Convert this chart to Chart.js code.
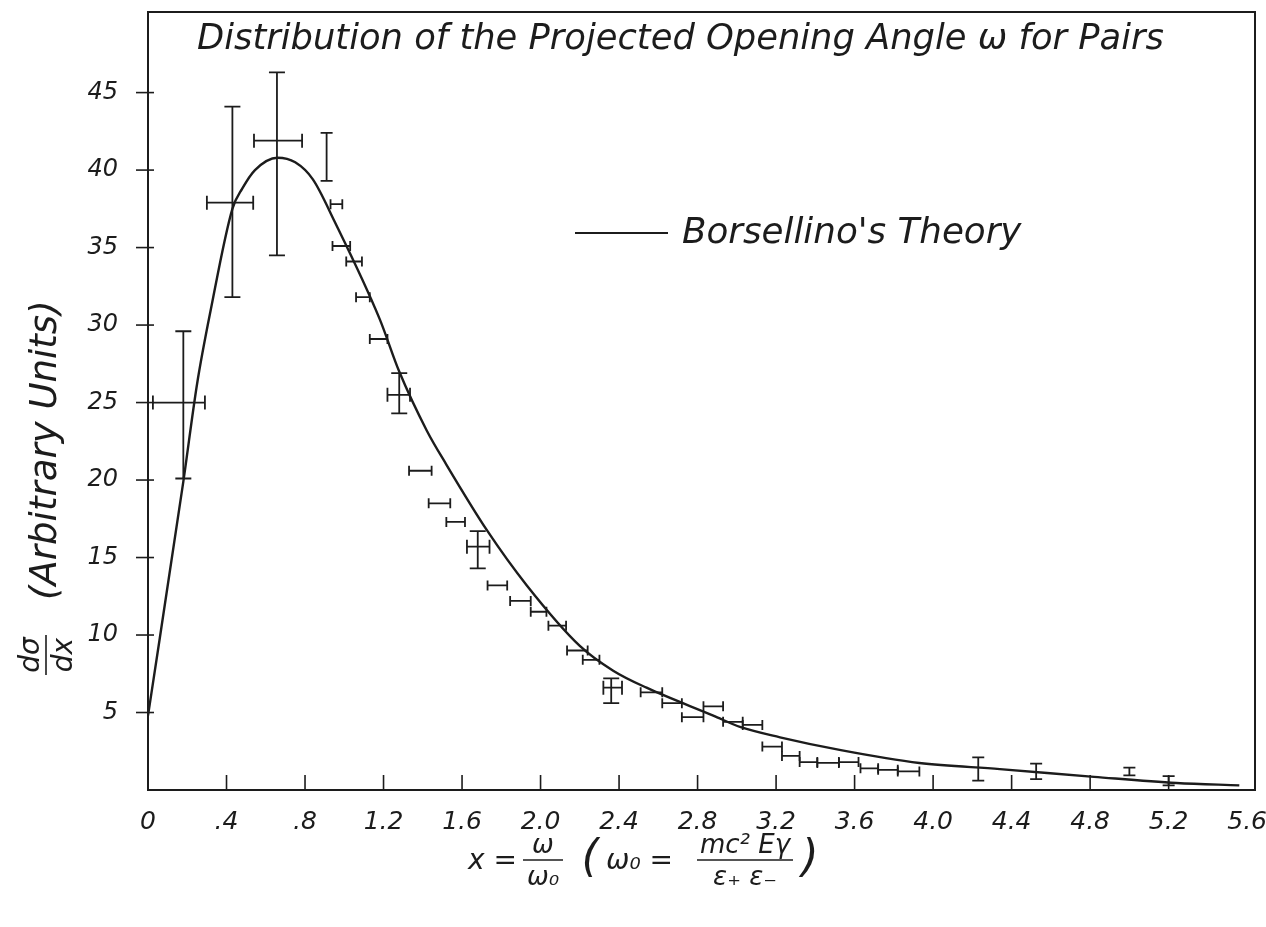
<!DOCTYPE html>
<html>
<head>
<meta charset="utf-8">
<script src="https://cdn.jsdelivr.net/npm/chart.js@4/dist/chart.umd.min.js"></script>
<style>
  html, body { margin: 0; padding: 0; background: #ffffff; }
  #wrap { width: 1266px; height: 927px; }
</style>
</head>
<body>
<div id="wrap"><canvas id="c" width="1266" height="927"></canvas></div>
<script>
// Borsellino's theoretical curve (x = w / w0, d sigma / dx)
const theoryX = [0, 0.18, 0.25, 0.32, 0.43, 0.48, 0.545, 0.66, 0.75, 0.84, 0.95, 1.18, 1.28, 1.42, 1.52, 1.73, 1.93, 2.2, 2.37, 2.54, 2.88, 3.02, 3.22, 3.53, 3.93, 4.34, 4.82, 5.24, 5.56];
const theoryY = [4.8, 19.9, 26.2, 31.0, 37.5, 38.8, 40.0, 40.8, 40.5, 39.4, 36.7, 30.4, 27.0, 23.2, 21.0, 16.7, 13.2, 9.3, 7.7, 6.6, 4.8, 4.05, 3.4, 2.57, 1.74, 1.35, 0.85, 0.45, 0.3];

// Measured pairs: centre values and error ranges (null = no bar in that direction)
const obsX = [0.18, 0.43, 0.657, 0.91, 0.96, 0.99, 1.05, 1.10, 1.17, 1.28, 1.39, 1.485, 1.565, 1.68, 1.78, 1.895, 1.99, 2.085, 2.19, 2.26, 2.36, 2.565, 2.67, 2.775, 2.88, 2.98, 3.08, 3.18, 3.275, 3.365, 3.465, 3.57, 3.675, 3.77, 3.875, 4.23, 4.525, 5.0, 5.2];
const obsY = [25.0, 37.9, 41.9, 40.6, 37.8, 35.1, 34.1, 31.8, 29.1, 25.5, 20.6, 18.5, 17.3, 15.7, 13.2, 12.2, 11.5, 10.6, 9.0, 8.4, 6.6, 6.3, 5.6, 4.7, 5.4, 4.4, 4.2, 2.8, 2.2, 1.8, 1.75, 1.8, 1.4, 1.3, 1.2, 1.4, 1.2, 1.2, 0.6];
const obsXLo = [0.025, 0.30, 0.54, null, 0.93, 0.94, 1.01, 1.06, 1.13, 1.22, 1.33, 1.43, 1.52, 1.625, 1.73, 1.845, 1.95, 2.04, 2.135, 2.215, 2.32, 2.51, 2.62, 2.72, 2.83, 2.93, 3.03, 3.13, 3.23, 3.32, 3.41, 3.52, 3.63, 3.72, 3.82, null, null, null, null];
const obsXHi = [0.29, 0.536, 0.785, null, 0.99, 1.03, 1.09, 1.13, 1.22, 1.335, 1.445, 1.54, 1.615, 1.74, 1.83, 1.95, 2.03, 2.13, 2.24, 2.30, 2.415, 2.62, 2.72, 2.83, 2.93, 3.03, 3.13, 3.23, 3.32, 3.41, 3.52, 3.62, 3.72, 3.82, 3.93, null, null, null, null];
const obsYLo = [20.1, 31.8, 34.5, 39.3, null, null, null, null, null, 24.3, null, null, null, 14.3, null, null, null, null, null, null, 5.6, null, null, null, null, null, null, null, null, null, null, null, null, null, null, 0.6, 0.7, 0.95, 0.3];
const obsYHi = [29.6, 44.1, 46.3, 42.4, null, null, null, null, null, 26.9, null, null, null, 16.7, null, null, null, null, null, null, 7.2, null, null, null, null, null, null, null, null, null, null, null, null, null, null, 2.1, 1.7, 1.45, 0.9];

// Axis ticks
const xTickValues = [0, 0.4, 0.8, 1.2, 1.6, 2.0, 2.4, 2.8, 3.2, 3.6, 4.0, 4.4, 4.8, 5.2, 5.6];
const xTickLabels = ['0', '.4', '.8', '1.2', '1.6', '2.0', '2.4', '2.8', '3.2', '3.6', '4.0', '4.4', '4.8', '5.2', '5.6'];
const yTickValues = [5, 10, 15, 20, 25, 30, 35, 40, 45];
const yTickLabels = ['5', '10', '15', '20', '25', '30', '35', '40', '45'];

const INK = '#1c1c1c';
const FONT = "'DejaVu Sans', 'Liberation Sans', sans-serif";

// Frame around the plot plus hand-style tick marks
const framePlugin = {
  id: 'frame',
  beforeDatasetsDraw(chart) {
    const { ctx, chartArea: a, scales } = chart;
    ctx.save();
    ctx.strokeStyle = INK;
    ctx.lineWidth = 2;
    ctx.strokeRect(a.left, a.top, a.right - a.left, a.bottom - a.top);
    ctx.lineWidth = 1.6;
    xTickValues.forEach(v => {
      if (v <= 0 || v >= 5.6) return;
      const px = scales.x.getPixelForValue(v);
      ctx.beginPath();
      ctx.moveTo(px, a.bottom);
      ctx.lineTo(px, a.bottom - 15);
      ctx.stroke();
    });
    yTickValues.forEach(v => {
      const py = scales.y.getPixelForValue(v);
      ctx.beginPath();
      ctx.moveTo(a.left - 12, py);
      ctx.lineTo(a.left + 6, py);
      ctx.stroke();
    });
    ctx.restore();
  }
};

// Error bars for the measured points
const errorBarPlugin = {
  id: 'errorBars',
  afterDatasetsDraw(chart) {
    const { ctx, scales } = chart;
    const sx = scales.x, sy = scales.y;
    ctx.save();
    ctx.strokeStyle = INK;
    ctx.lineWidth = 1.8;
    obsX.forEach((xv, i) => {
      const px = sx.getPixelForValue(xv);
      const py = sy.getPixelForValue(obsY[i]);
      const big = obsXLo[i] !== null && obsYLo[i] !== null;
      if (obsXLo[i] !== null) {
        const x0 = sx.getPixelForValue(obsXLo[i]);
        const x1 = sx.getPixelForValue(obsXHi[i]);
        const h = big ? 7 : 5;
        ctx.beginPath();
        ctx.moveTo(x0, py); ctx.lineTo(x1, py);
        ctx.moveTo(x0, py - h); ctx.lineTo(x0, py + h);
        ctx.moveTo(x1, py - h); ctx.lineTo(x1, py + h);
        ctx.stroke();
      }
      if (obsYLo[i] !== null) {
        const y0 = sy.getPixelForValue(obsYLo[i]);
        const y1 = sy.getPixelForValue(obsYHi[i]);
        const w = big ? 8 : 6;
        ctx.beginPath();
        ctx.moveTo(px, y0); ctx.lineTo(px, y1);
        ctx.moveTo(px - w, y0); ctx.lineTo(px + w, y0);
        ctx.moveTo(px - w, y1); ctx.lineTo(px + w, y1);
        ctx.stroke();
      }
    });
    ctx.restore();
  }
};

function fitFont(ctx, text, targetWidth, style) {
  ctx.font = style + ' 30px ' + FONT;
  const w = ctx.measureText(text).width;
  const size = 30 * targetWidth / w;
  ctx.font = style + ' ' + size.toFixed(1) + 'px ' + FONT;
  return size;
}

function fraction(ctx, cx, barY, num, den, barW, size) {
  ctx.font = 'italic ' + size + 'px ' + FONT;
  ctx.textAlign = 'center';
  ctx.textBaseline = 'alphabetic';
  ctx.fillText(num, cx, barY - 7);
  ctx.textBaseline = 'top';
  ctx.fillText(den, cx, barY + 5);
  ctx.beginPath();
  ctx.moveTo(cx - barW / 2, barY);
  ctx.lineTo(cx + barW / 2, barY);
  ctx.stroke();
}

// Title, legend and axis captions
const textPlugin = {
  id: 'captions',
  afterDraw(chart) {
    const { ctx } = chart;
    ctx.save();
    ctx.fillStyle = INK;
    ctx.strokeStyle = INK;
    ctx.lineWidth = 1.6;

    // title inside the frame
    const title = 'Distribution of the Projected Opening Angle \u03C9 for Pairs';
    fitFont(ctx, title, 968, 'italic');
    ctx.textAlign = 'left';
    ctx.textBaseline = 'middle';
    ctx.fillText(title, 197, 40);

    // legend entry
    ctx.lineWidth = 2;
    ctx.beginPath();
    ctx.moveTo(575, 233);
    ctx.lineTo(668, 233);
    ctx.stroke();
    const leg = "Borsellino's Theory";
    fitFont(ctx, leg, 340, 'italic');
    ctx.textAlign = 'left';
    ctx.textBaseline = 'middle';
    ctx.fillText(leg, 682, 234);

    // y axis caption (rotated)
    ctx.save();
    ctx.translate(46, 0);
    ctx.rotate(-Math.PI / 2);
    ctx.lineWidth = 1.6;
    fraction(ctx, -655, 0, 'd\u03C3', 'dx', 40, 28);
    const yCap = '(Arbitrary Units)';
    fitFont(ctx, yCap, 300, 'italic');
    ctx.textAlign = 'left';
    ctx.textBaseline = 'middle';
    ctx.fillText(yCap, -600, 0);
    ctx.restore();

    // x axis caption
    ctx.lineWidth = 1.6;
    ctx.font = 'italic 28px ' + FONT;
    ctx.textAlign = 'left';
    ctx.textBaseline = 'middle';
    ctx.fillText('x =', 468, 862);
    fraction(ctx, 543, 860, '\u03C9', '\u03C9\u2080', 40, 26);
    ctx.font = 'italic 44px ' + FONT;
    ctx.textAlign = 'center';
    ctx.textBaseline = 'middle';
    ctx.fillText('(', 590, 860);
    ctx.fillText(')', 810, 860);
    ctx.font = 'italic 28px ' + FONT;
    ctx.textAlign = 'left';
    ctx.fillText('\u03C9\u2080 =', 606, 862);
    fraction(ctx, 745, 860, 'mc\u00B2 E\u03B3', '\u03B5\u208A \u03B5\u208B', 96, 26);
    ctx.restore();
  }
};

// keep the plot area fixed: no extra room reserved for overhanging tick labels
function noScalePadding(s) {
  s.paddingLeft = 0; s.paddingRight = 0; s.paddingTop = 0; s.paddingBottom = 0;
}

new Chart(document.getElementById('c'), {
  type: 'scatter',
  data: {
    datasets: [
      {
        label: "Borsellino's Theory",
        type: 'line',
        data: theoryX.map((x, i) => ({ x, y: theoryY[i] })),
        borderColor: INK,
        borderWidth: 2.4,
        pointRadius: 0,
        fill: false,
        cubicInterpolationMode: 'monotone'
      },
      {
        label: 'Measured',
        data: obsX.map((x, i) => ({ x, y: obsY[i] })),
        pointRadius: 0,
        showLine: false
      }
    ]
  },
  options: {
    responsive: false,
    animation: false,
    devicePixelRatio: 1,
    layout: { padding: { top: 12, right: 11, left: 0, bottom: 0 } },
    plugins: { legend: { display: false }, title: { display: false }, tooltip: { enabled: false } },
    scales: {
      x: {
        type: 'linear',
        min: 0,
        max: 5.64,
        afterBuildTicks: s => { s.ticks = xTickValues.map(v => ({ value: v })); },
        afterFit: s => { s.height = 137; noScalePadding(s); },
        grid: { display: false },
        border: { display: false },
        ticks: {
          autoSkip: false,
          maxRotation: 0,
          padding: 9,
          color: INK,
          font: { family: FONT, size: 25, style: 'italic' },
          callback: (v, i) => xTickLabels[i]
        }
      },
      y: {
        type: 'linear',
        min: 0,
        max: 50.2,
        afterBuildTicks: s => { s.ticks = yTickValues.map(v => ({ value: v })); },
        afterFit: s => { s.width = 148; noScalePadding(s); },
        grid: { display: false },
        border: { display: false },
        ticks: {
          autoSkip: false,
          padding: 22,
          color: INK,
          font: { family: FONT, size: 24, style: 'italic' },
          callback: (v, i) => yTickLabels[i]
        }
      }
    }
  },
  plugins: [framePlugin, errorBarPlugin, textPlugin]
});
</script>
</body>
</html>
